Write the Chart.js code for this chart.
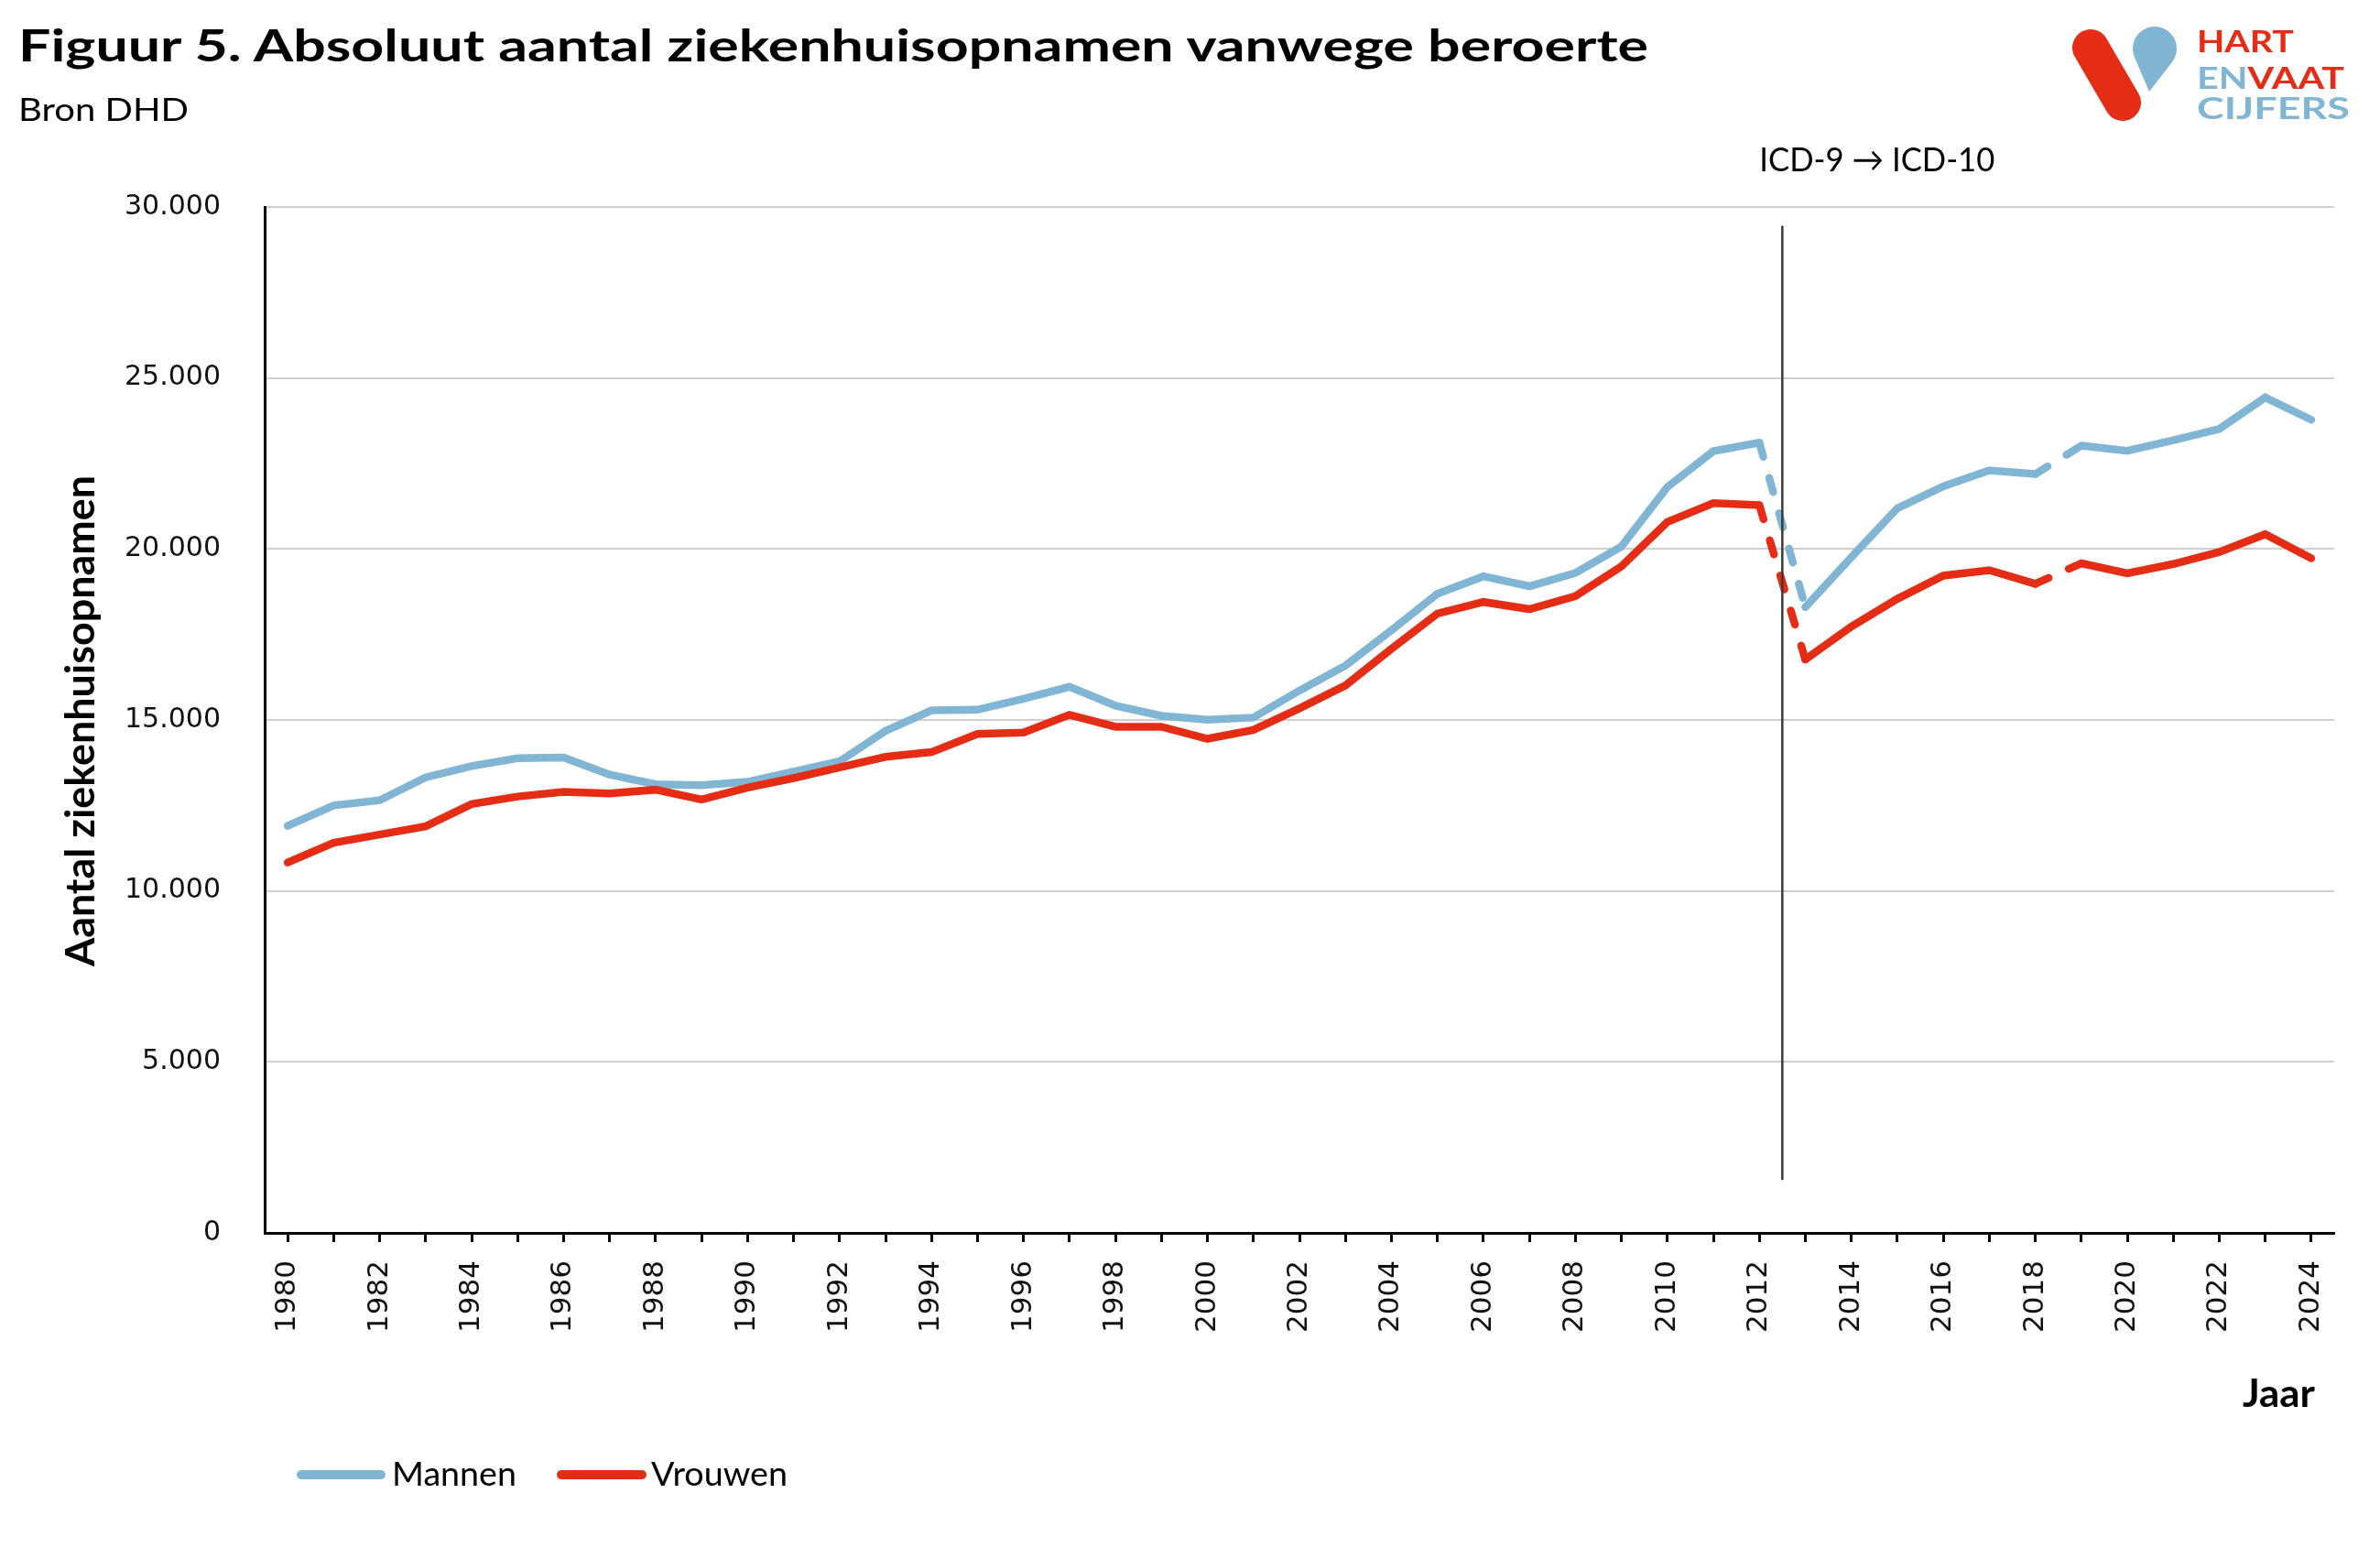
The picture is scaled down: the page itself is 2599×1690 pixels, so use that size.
<!DOCTYPE html>
<html lang="nl">
<head>
<meta charset="utf-8">
<title>Figuur 5. Absoluut aantal ziekenhuisopnamen vanwege beroerte</title>
<script src="https://cdn.jsdelivr.net/npm/chart.js@4.4.1/dist/chart.umd.min.js"></script>
<style>
  html, body { margin: 0; padding: 0; background: #fff; }
  #wrap { position: relative; width: 2599px; height: 1690px; overflow: hidden; }
  #chart, #overlay { position: absolute; left: 0; top: 0; }
  #overlay text { font-family: Lato, "Open Sans", sans-serif; }
</style>
</head>
<body>
<div id="wrap">
  <canvas id="chart" width="2599" height="1690"></canvas>
  <svg id="overlay" width="2599" height="1690" viewBox="0 0 2599 1690">
    <!-- titel -->
    <text x="20" y="67" font-size="48" font-weight="700" fill="#000" textLength="1780" lengthAdjust="spacingAndGlyphs">Figuur 5. Absoluut aantal ziekenhuisopnamen vanwege beroerte</text>
    <text x="20" y="132" font-size="35" fill="#000" textLength="186" lengthAdjust="spacingAndGlyphs">Bron DHD</text>

    <!-- logo -->
    <line x1="2283" y1="52" x2="2318" y2="112" stroke="#e52d16" stroke-width="40" stroke-linecap="round"/>
    <path d="M 2347 100 L 2330.9 62.4 A 24 24 0 1 1 2372 67.7 Z" fill="#80b6d3"/>
    <text x="2399" y="57" font-size="33" font-weight="700" fill="#e52d16" textLength="106" lengthAdjust="spacingAndGlyphs">HART</text>
    <text x="2399" y="97" font-size="33" font-weight="700" textLength="161" lengthAdjust="spacingAndGlyphs"><tspan fill="#80b6d3">EN</tspan><tspan fill="#e52d16">VAAT</tspan></text>
    <text x="2399" y="130" font-size="33" font-weight="700" fill="#80b6d3" textLength="167" lengthAdjust="spacingAndGlyphs">CIJFERS</text>

    <!-- astitels -->
    <text transform="translate(103,787) rotate(-90)" text-anchor="middle" font-size="43" font-weight="700" fill="#000" textLength="536" lengthAdjust="spacingAndGlyphs">Aantal ziekenhuisopnamen</text>
    <text x="2449" y="1536" font-size="42" font-weight="700" fill="#000" textLength="79" lengthAdjust="spacingAndGlyphs">Jaar</text>

    <!-- legenda -->
    <line x1="329" y1="1610" x2="416" y2="1610" stroke="#80b6d3" stroke-width="10" stroke-linecap="round"/>
    <text x="428" y="1622" font-size="37" fill="#000" textLength="136" lengthAdjust="spacingAndGlyphs">Mannen</text>
    <line x1="613" y1="1610" x2="701" y2="1610" stroke="#e52d16" stroke-width="10" stroke-linecap="round"/>
    <text x="711" y="1622" font-size="37" fill="#000" textLength="149" lengthAdjust="spacingAndGlyphs">Vrouwen</text>
  </svg>
</div>
<script>
const jaren = ['1980','1981','1982','1983','1984','1985','1986','1987','1988','1989',
               '1990','1991','1992','1993','1994','1995','1996','1997','1998','1999',
               '2000','2001','2002','2003','2004','2005','2006','2007','2008','2009',
               '2010','2011','2012','2013','2014','2015','2016','2017','2018','2019',
               '2020','2021','2022','2023','2024'];

const mannen = [11900, 12500, 12650, 13320, 13650, 13880, 13900, 13400, 13120, 13090,
                13190, 13490, 13790, 14680, 15280, 15300, 15620, 15970, 15420, 15120,
                15010, 15070, 15860, 16590, 17620, 18690, 19200, 18910, 19300, 20070,
                21810, 22860, 23110, 18300, 19760, 21190, 21830, 22300, 22190, 23020,
                22870, 23180, 23510, 24430, 23780];

const vrouwen = [10830, 11410, 11650, 11890, 12540, 12760, 12900, 12850, 12960, 12670,
                 13020, 13300, 13610, 13920, 14060, 14590, 14630, 15150, 14800, 14800,
                 14450, 14710, 15340, 16010, 17080, 18110, 18450, 18240, 18620, 19490,
                 20790, 21340, 21280, 16770, 17730, 18540, 19220, 19380, 18980, 19580,
                 19290, 19560, 19910, 20430, 19730];

const yTicks = [0, 5000, 10000, 15000, 20000, 25000, 30000];

// gestippelde stukken: 2012-2013 (ICD-wissel) en 2018-2019
const gestippeld = [32, 38];
const icdNa = 32;          // lijn tussen 2012 en 2013
const icdBoven = 29450;
const icdOnder = 1550;
const icdTekst = 'ICD-9 \u2192 ICD-10';

const blauw = '#80b6d3';
const rood = '#e52d16';

const fmt = v => String(v).replace(/\B(?=(\d{3})+(?!\d))/g, '.');

const icdLijn = {
    id: 'icdLijn',
    afterDatasetsDraw(chart) {
        const { ctx, scales: { x, y } } = chart;
        const px = (x.getPixelForValue(icdNa) + x.getPixelForValue(icdNa + 1)) / 2;
        ctx.save();
        ctx.strokeStyle = '#3a3a3a';
        ctx.lineWidth = 2.5;
        ctx.beginPath();
        ctx.moveTo(px, y.getPixelForValue(icdBoven));
        ctx.lineTo(px, y.getPixelForValue(icdOnder));
        ctx.stroke();
        ctx.fillStyle = '#000';
        ctx.font = '37px Lato, "DejaVu Sans", sans-serif';
        ctx.textAlign = 'left';
        ctx.textBaseline = 'alphabetic';
        ctx.fillText(icdTekst, px - 25, chart.chartArea.top - 39, 257);
        ctx.restore();
    }
};

const streep = c => gestippeld.includes(c.p0DataIndex) ? [16, 24] : undefined;

const ctx = document.getElementById('chart').getContext('2d');
new Chart(ctx, {
    type: 'line',
    data: {
        labels: jaren,
        datasets: [
            {
                label: 'Mannen',
                data: mannen,
                borderColor: blauw,
                backgroundColor: blauw,
                borderWidth: 8.5,
                borderCapStyle: 'round',
                pointRadius: 0,
                tension: 0,
                order: 2,
                segment: { borderDash: streep }
            },
            {
                label: 'Vrouwen',
                data: vrouwen,
                borderColor: rood,
                backgroundColor: rood,
                borderWidth: 8.5,
                borderCapStyle: 'round',
                pointRadius: 0,
                tension: 0,
                order: 1,
                segment: { borderDash: streep }
            }
        ]
    },
    options: {
        responsive: false,
        devicePixelRatio: 1,
        animation: false,
        layout: { padding: { left: 0, top: 226, right: 50, bottom: 184 } },
        plugins: {
            legend: { display: false },
            tooltip: { enabled: false }
        },
        scales: {
            x: {
                type: 'category',
                offset: true,
                afterFit: s => { s.height = 160; },
                grid: {
                    display: true,
                    drawOnChartArea: false,
                    offset: false,
                    tickLength: 10,
                    tickWidth: 3,
                    tickColor: '#000'
                },
                border: { display: true, color: '#000', width: 3 },
                ticks: {
                    autoSkip: false,
                    maxRotation: 90,
                    minRotation: 90,
                    padding: 20,
                    color: '#111',
                    font: { family: '"DejaVu Sans", sans-serif', size: 31 },
                    callback: (v, i) => i % 2 === 0 ? jaren[i] : ''
                }
            },
            y: {
                min: 0,
                max: 30000,
                afterFit: s => { s.width = 289; },
                afterBuildTicks: s => { s.ticks = yTicks.map(v => ({ value: v })); },
                grid: { color: '#cfcfcf', lineWidth: 2, drawTicks: false },
                border: { display: true, color: '#000', width: 3 },
                ticks: {
                    padding: 48,
                    color: '#111',
                    font: { family: '"DejaVu Sans", sans-serif', size: 30 },
                    callback: v => fmt(v)
                }
            }
        }
    },
    plugins: [icdLijn]
});
</script>
</body>
</html>
